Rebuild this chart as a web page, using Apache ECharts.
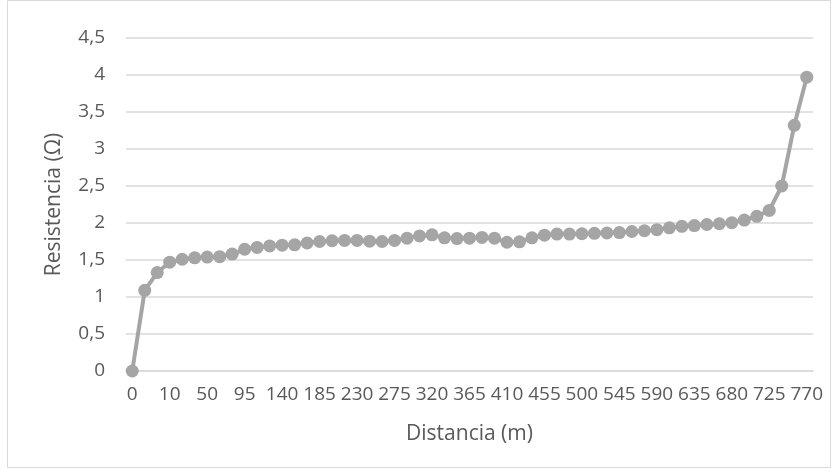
<!DOCTYPE html>
<html>
<head>
<meta charset="utf-8">
<script src="https://cdn.jsdelivr.net/npm/echarts@6/dist/echarts.min.js"></script>
<style>
html,body{margin:0;padding:0;background:#fff;}
#chart{width:838px;height:476px;}
</style>
</head>
<body>
<div id="chart"></div>
<script>
const categories = ['0','2','5','10','20','35','50','65','80','95','110','125','140','155','170','185','200','215','230','245','260','275','290','305','320','335','350','365','380','395','410','425','440','455','470','485','500','515','530','545','560','575','590','605','620','635','650','665','680','695','710','725','740','755','770'];
const resistencia = [0,1.09,1.33,1.47,1.51,1.53,1.54,1.545,1.58,1.645,1.67,1.69,1.70,1.705,1.73,1.75,1.76,1.765,1.765,1.755,1.75,1.765,1.795,1.825,1.84,1.80,1.79,1.795,1.805,1.795,1.74,1.745,1.80,1.835,1.85,1.85,1.855,1.86,1.865,1.87,1.885,1.895,1.91,1.935,1.955,1.965,1.98,1.99,2.005,2.04,2.09,2.17,2.5,3.32,3.97];
const yTicks = [0,0.5,1,1.5,2,2.5,3,3.5,4,4.5];

const chart = echarts.init(document.getElementById('chart'));
const font = '"Open Sans", "Liberation Sans", sans-serif';
chart.setOption({
  animation:false,
  backgroundColor:'#fff',
  graphic:[{type:'rect',shape:{x:7.5,y:0.5,width:823,height:467},style:{fill:'none',stroke:'#d9d9d9',lineWidth:1},silent:true}],
  grid:{left:126,right:25,top:38,bottom:105},
  xAxis:{
    type:'category',data:categories,boundaryGap:true,
    axisLine:{lineStyle:{color:'#d9d9d9',width:1.5}},
    axisTick:{show:false},
    axisLabel:{interval:2,color:'#595959',fontFamily:font,fontSize:19,margin:14},
    name:'Distancia (m)',nameLocation:'middle',nameGap:53,
    nameTextStyle:{color:'#595959',fontFamily:font,fontSize:21}
  },
  yAxis:{
    type:'value',min:0,max:4.5,interval:0.5,
    axisLine:{show:false},axisTick:{show:false},
    splitLine:{lineStyle:{color:'#d9d9d9',width:1.5}},
    axisLabel:{color:'#595959',fontFamily:font,fontSize:19,margin:21,
      formatter:v=>{const t=yTicks.find(x=>Math.abs(x-v)<1e-9);return String(t!==undefined?t:v).replace('.',',');}},
    name:'Resistencia (Ω)',nameLocation:'middle',nameGap:61,nameRotate:90,
    nameTextStyle:{color:'#595959',fontFamily:font,fontSize:21}
  },
  series:[{
    type:'line',data:resistencia,
    symbol:'circle',symbolSize:13,showAllSymbol:true,
    lineStyle:{color:'#a5a5a5',width:4},
    itemStyle:{color:'#a5a5a5'}
  }]
});
</script>
</body>
</html>
